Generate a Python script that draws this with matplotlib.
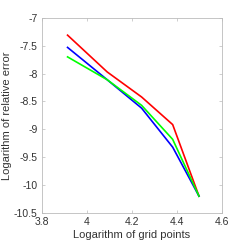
import matplotlib
matplotlib.use('Agg')
import matplotlib.pyplot as plt

# log of grid points
x = [3.914, 4.09, 4.243, 4.381, 4.498]
# log of relative error for three methods
red = [-7.31, -7.97, -8.42, -8.915, -10.2]
blue = [-7.53, -8.11, -8.62, -9.32, -10.2]
green = [-7.70, -8.11, -8.57, -9.18, -10.2]

plt.rcParams['font.family'] = ['Liberation Sans', 'DejaVu Sans']

fig = plt.figure(figsize=(2.45, 2.45), dpi=100)
ax = fig.add_axes([0.171, 0.131, 0.735, 0.796])

ax.plot(x, red, color='red', lw=1.2)
ax.plot(x, blue, color='blue', lw=1.2)
ax.plot(x, green, color='#00ff00', lw=1.2)

ax.set_xlim(3.8, 4.6)
ax.set_ylim(-10.5, -7)
ax.set_xticks([3.8, 4, 4.2, 4.4, 4.6])
ax.set_xticklabels(['3.8', '4', '4.2', '4.4', '4.6'])
ax.set_yticks([-10.5, -10, -9.5, -9, -8.5, -8, -7.5, -7])
ax.set_yticklabels(['-10.5', '-10', '-9.5', '-9', '-8.5', '-8', '-7.5', '-7'])

gray = '#333333'
for s in ax.spines.values():
    s.set_color('#bbbbbb')
    s.set_linewidth(0.6)
ax.tick_params(direction='in', length=2, width=0.5, colors='#bbbbbb',
               labelcolor=gray, labelsize=7.5, top=True, right=True, pad=3)

ax.set_xlabel('Logarithm of grid points', fontsize=8, color=gray)
ax.set_ylabel('Logarithm of relative error', fontsize=8, color=gray)
ax.yaxis.set_label_coords(-0.165, 0.5)
ax.xaxis.set_label_coords(0.5, -0.09)

fig.savefig('out.png', dpi=100)
